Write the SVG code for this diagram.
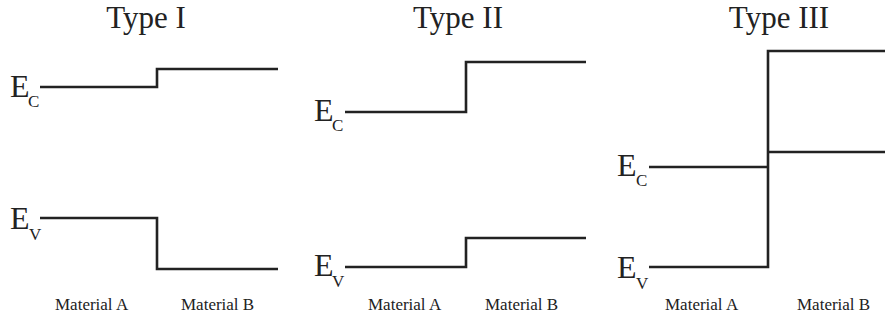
<svg xmlns="http://www.w3.org/2000/svg" width="885" height="320" viewBox="0 0 885 320">
<style>
  text { font-family: "Liberation Serif", "Times New Roman", serif; fill: #222; }
  .title { font-size: 31px; text-anchor: middle; }
  .e { font-size: 32px; }
  .sub { font-size: 17px; }
  .mat { font-size: 17px; }
  .band { fill: none; stroke: #222; stroke-width: 2.6; stroke-linejoin: miter; }
</style>
<rect width="885" height="320" fill="#fff"/>

<g id="type1">
  <text class="title" x="146" y="28">Type I</text>
  <g id="t1-ec"><text class="e" x="10" y="97">E</text><text class="sub" x="28" y="107">C</text></g>
  <g id="t1-ev"><text class="e" x="10" y="229">E</text><text class="sub" x="29" y="240">V</text></g>
  <text class="mat" x="55" y="310">Material A</text>
  <text class="mat" x="181" y="310">Material B</text>
</g>

<g id="type2">
  <text class="title" x="458" y="28">Type II</text>
  <g id="t2-ec"><text class="e" x="314" y="121">E</text><text class="sub" x="332" y="131">C</text></g>
  <g id="t2-ev"><text class="e" x="314" y="276">E</text><text class="sub" x="332" y="287">V</text></g>
  <text class="mat" x="368" y="310">Material A</text>
  <text class="mat" x="485" y="310">Material B</text>
</g>

<g id="type3">
  <text class="title" x="779" y="28">Type III</text>
  <g id="t3-ec"><text class="e" x="617" y="176">E</text><text class="sub" x="636" y="186">C</text></g>
  <g id="t3-ev"><text class="e" x="617" y="278">E</text><text class="sub" x="636" y="289">V</text></g>
  <text class="mat" x="665" y="310">Material A</text>
  <text class="mat" x="797" y="310">Material B</text>
</g>

<g id="bands">
  <path class="band" d="M40 87 H157 V69 H278"/>
  <path class="band" d="M40 218 H157 V269 H278"/>
  <path class="band" d="M345 112 H466 V62 H586"/>
  <path class="band" d="M345 267 H466 V238 H586"/>
  <path class="band" d="M649 167 H768"/>
  <path class="band" d="M649 267 H768 V51 H885"/>
  <path class="band" d="M768 152 H885"/>
</g>
</svg>
